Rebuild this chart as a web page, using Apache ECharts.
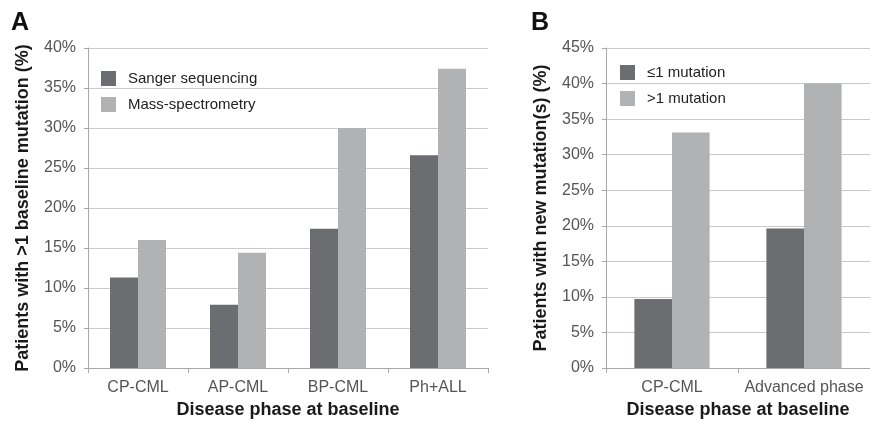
<!DOCTYPE html>
<html>
<head>
<meta charset="utf-8">
<script src="https://cdn.jsdelivr.net/npm/echarts@6/dist/echarts.min.js"></script>
<style>
html,body{margin:0;padding:0;background:#fff;}
#c{width:870px;height:424px;}
</style>
</head>
<body>
<div id="c"></div>
<script>
// Panel A
var catsA = ['CP-CML', 'AP-CML', 'BP-CML', 'Ph+ALL'];
var sangerA = [11.3, 7.9, 17.4, 26.6];
var massA = [16.0, 14.4, 30.0, 37.4];
var namesA = ['Sanger sequencing', 'Mass-spectrometry'];
// Panel B
var catsB = ['CP-CML', 'Advanced phase'];
var le1B = [9.7, 19.6];
var gt1B = [33.1, 40.0];
var namesB = ['\u22641 mutation', '>1 mutation'];

var FONT = 'Liberation Sans, Arial, Helvetica, sans-serif';
var DARK = '#6c6d71';
var LIGHT = '#b1b2b4';
var AXIS = '#a8a8a8';
var GRID = '#c9c9c9';
var TICK = '#555555';

function yAxis(idx, max) {
  return {
    type: 'value', gridIndex: idx, min: 0, max: max, interval: 5,
    name: idx === 0 ? 'Patients with >1 baseline mutation (%)' : 'Patients with new mutation(s) (%)',
    nameLocation: 'middle', nameGap: 56,
    nameTextStyle: {fontFamily: FONT, fontSize: 18, fontWeight: 'bold', color: '#1a1a1a'},
    axisLine: {show: true, lineStyle: {color: AXIS, width: 1}},
    axisTick: {show: true, length: 4, lineStyle: {color: AXIS}},
    splitLine: {show: true, lineStyle: {color: GRID, width: 1}},
    axisLabel: {formatter: '{value}%', fontFamily: FONT, fontSize: 16, color: TICK, margin: 12}
  };
}
function xAxis(idx, cats) {
  return {
    type: 'category', gridIndex: idx, data: cats,
    name: 'Disease phase at baseline', nameLocation: 'middle', nameGap: 33,
    nameTextStyle: {fontFamily: FONT, fontSize: 18, fontWeight: 'bold', color: '#1a1a1a'},
    axisLine: {show: true, lineStyle: {color: AXIS, width: 1}},
    axisTick: {show: true, length: 5, lineStyle: {color: AXIS}},
    axisLabel: {fontFamily: FONT, fontSize: 16, color: TICK, margin: 12, interval: 0}
  };
}

var chart = echarts.init(document.getElementById('c'), null, {renderer: 'canvas'});
chart.setOption({
  animation: false,
  backgroundColor: '#ffffff',
  title: [
    {text: 'A', left: 6, top: 6, textStyle: {fontFamily: FONT, fontSize: 25, fontWeight: 'bold', color: '#111'}},
    {text: 'B', left: 526, top: 6, textStyle: {fontFamily: FONT, fontSize: 25, fontWeight: 'bold', color: '#111'}}
  ],
  grid: [
    {left: 88, top: 48, width: 400, height: 321, containLabel: false},
    {left: 606, top: 48, width: 268, height: 321, containLabel: false}
  ],
  legend: [
    {data: namesA, orient: 'vertical', left: 96, top: 66, itemWidth: 15, itemHeight: 15, itemGap: 11,
     icon: 'rect', textStyle: {fontFamily: FONT, fontSize: 15, color: '#222', padding: [0, 0, 0, 7]}},
    {data: namesB, orient: 'vertical', left: 615, top: 60, itemWidth: 15, itemHeight: 15, itemGap: 11,
     icon: 'rect', textStyle: {fontFamily: FONT, fontSize: 15, color: '#222', padding: [0, 0, 0, 7]}}
  ],
  xAxis: [xAxis(0, catsA), xAxis(1, catsB)],
  yAxis: [yAxis(0, 40), yAxis(1, 45)],
  series: [
    {name: namesA[0], type: 'bar', xAxisIndex: 0, yAxisIndex: 0, data: sangerA, barGap: '0%', barCategoryGap: '44%', itemStyle: {color: DARK}},
    {name: namesA[1], type: 'bar', xAxisIndex: 0, yAxisIndex: 0, data: massA, barGap: '0%', barCategoryGap: '44%', itemStyle: {color: LIGHT}},
    {name: namesB[0], type: 'bar', xAxisIndex: 1, yAxisIndex: 1, data: le1B, barGap: '0%', barCategoryGap: '43%', itemStyle: {color: DARK}},
    {name: namesB[1], type: 'bar', xAxisIndex: 1, yAxisIndex: 1, data: gt1B, barGap: '0%', barCategoryGap: '43%', itemStyle: {color: LIGHT}}
  ]
});
</script>
</body>
</html>
